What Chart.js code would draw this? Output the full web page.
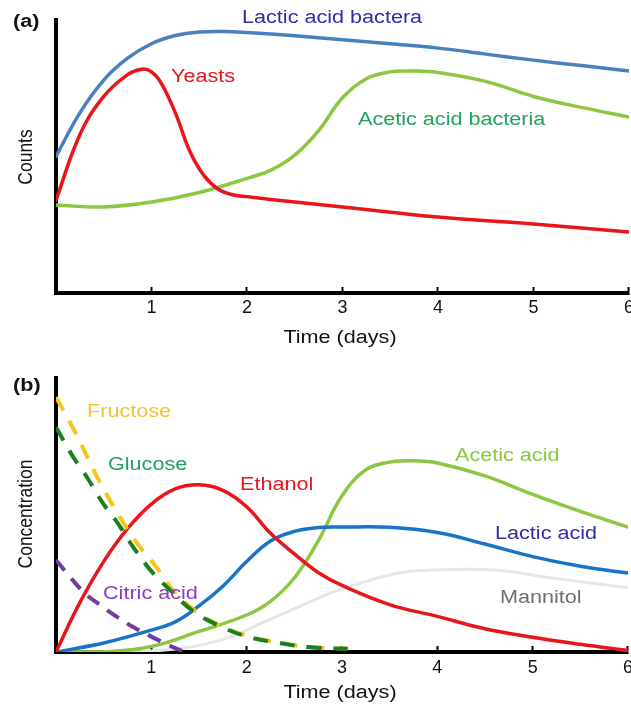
<!DOCTYPE html>
<html>
<head>
<meta charset="utf-8">
<script src="https://cdn.jsdelivr.net/npm/chart.js@4.4.0/dist/chart.umd.min.js"></script>
<style>
  body { margin:0; width:631px; height:708px; position:relative; overflow:hidden; background:#fff; font-family:'Liberation Sans', Arial, sans-serif; }
  .box { position:absolute; left:0; width:646px; }
  .lab { position:absolute; font-size:18px; line-height:1; white-space:nowrap; transform-origin:0 50%; transform:translateY(-50%) scaleX(1.2); }
  .vlab { position:absolute; font-size:17.5px; line-height:1; white-space:nowrap; transform:translate(-50%,-50%) rotate(-90deg) scaleY(1.2); color:#111; }
  .ttl { position:absolute; font-size:18px; line-height:1; white-space:nowrap; transform:translate(-50%,-50%) scaleX(1.2); color:#111; }
</style>
</head>
<body>
<div class="box" style="top:0;height:329px"><canvas id="chartA"></canvas></div>
<div class="box" style="top:355px;height:335px"><canvas id="chartB"></canvas></div>

<div class="lab" style="left:13px;top:21px;font-weight:bold;color:#111">(a)</div>
<div class="lab" style="left:242px;top:17px;color:#2c2eaa">Lactic acid bactera</div>
<div class="lab" style="left:171px;top:76px;color:#e3161e">Yeasts</div>
<div class="lab" style="left:358px;top:119px;color:#22a35a">Acetic acid bacteria</div>
<div class="vlab" style="left:26px;top:157px">Counts</div>
<div class="ttl" style="left:340px;top:337px">Time (days)</div>

<div class="lab" style="left:13px;top:385px;font-weight:bold;color:#111">(b)</div>
<div class="lab" style="left:87px;top:411px;color:#f0c431">Fructose</div>
<div class="lab" style="left:108px;top:464px;color:#22a060">Glucose</div>
<div class="lab" style="left:240px;top:484px;color:#e3161e">Ethanol</div>
<div class="lab" style="left:103px;top:593px;color:#8a3cc0">Citric acid</div>
<div class="lab" style="left:455px;top:455px;color:#8dc641">Acetic acid</div>
<div class="lab" style="left:495px;top:533px;color:#2c2eaa">Lactic acid</div>
<div class="lab" style="left:500px;top:597px;color:#707070">Mannitol</div>
<div class="vlab" style="left:26px;top:514px">Concentration</div>
<div class="ttl" style="left:340px;top:692px">Time (days)</div>

<script>
// x tick labels (days)
const dayTicks = [1, 2, 3, 4, 5, 6];

// (a) counts
const labT = [0, 0.25, 0.5, 0.75, 1, 1.25, 1.5, 1.75, 2, 2.5, 3, 3.5, 4, 4.5, 5, 5.5, 6];
const labV = [50, 66, 78, 86, 91.3, 94.3, 95.6, 95.8, 95.4, 94.2, 92.8, 91.3, 89.7, 87.5, 85.3, 83.3, 81.3];

const yeastT = [0, 0.25, 0.5, 0.75, 0.9, 1.0, 1.1, 1.25, 1.4, 1.55, 1.7, 1.85, 2, 2.5, 3, 4, 5, 6];
const yeastV = [34, 58, 72, 80, 82, 81, 77, 66, 52, 43, 38, 36, 35.3, 33.3, 31.5, 27.8, 25.3, 22.3];

const aabT = [0, 0.5, 1, 1.5, 2, 2.25, 2.5, 2.75, 3, 3.25, 3.5, 3.75, 4, 4.5, 5, 5.5, 6];
const aabV = [32.2, 31.5, 33.3, 36.8, 42, 45, 50.5, 59.5, 71.5, 78.5, 81, 81.3, 80.8, 77.5, 72, 68, 64.5];

// (b) concentration
const fructoseT = [0, 0.2, 0.46, 0.71, 0.88, 1.06, 1.2, 1.45, 1.76, 2.04, 2.33, 2.67, 3.06];
const fructoseV = [93, 80.3, 62, 47, 38.3, 30.7, 23.7, 15.3, 9.1, 5.5, 3.5, 1.8, 1.3];

const glucoseT = [0, 0.18, 0.33, 0.49, 0.64, 0.81, 0.99, 1.2, 1.45, 1.76, 2.04, 2.33, 2.67, 3.06];
const glucoseV = [82, 71.2, 63.5, 54.4, 47.4, 38.3, 29.9, 22.5, 14.6, 8.8, 5.3, 3.4, 1.7, 1.2];

const citricT = [0, 0.12, 0.3, 0.45, 0.64, 0.81, 0.99, 1.2, 1.35];
const citricV = [33.6, 28.5, 21.5, 17.5, 12.8, 9.1, 5.8, 2.2, 0];

const ethanolT = [0, 0.25, 0.5, 0.75, 1, 1.25, 1.5, 1.75, 2, 2.25, 2.5, 2.75, 3, 3.5, 4, 4.5, 5, 5.5, 6];
const ethanolV = [0, 18, 33, 45, 54, 59.5, 61, 59, 53, 43.3, 35.8, 29, 24.3, 17.3, 13, 8.5, 5.4, 2.8, 0.5];

const lacticT = [0, 0.5, 1, 1.25, 1.5, 1.75, 2, 2.25, 2.5, 2.75, 3, 3.5, 4, 4.5, 5, 5.5, 6];
const lacticV = [0, 3.3, 8, 11, 16.8, 24, 33, 40.5, 44, 45.4, 45.6, 45.5, 43.6, 39.4, 34.8, 31.3, 28.8];

const aceticT = [0, 0.5, 1, 1.5, 2, 2.25, 2.5, 2.75, 3, 3.25, 3.5, 3.75, 4, 4.5, 5, 5.5, 6];
const aceticV = [0, 0, 2, 7.5, 13.5, 18.5, 27, 40.5, 57, 66.5, 69.3, 69.8, 69, 64.3, 57.5, 51.3, 45.6];

const mannitolT = [0, 0.8, 1.41, 1.83, 2.18, 2.54, 2.88, 3.23, 3.59, 3.94, 4.6, 5.13, 6];
const mannitolV = [0, 0, 1.8, 5.5, 10.9, 16.4, 21.5, 25.5, 28.8, 29.9, 29.9, 27.4, 23.4];

Chart.defaults.font.family = "'Liberation Sans', Arial, sans-serif";

function pts(t, v) {
  return t.map((x, i) => ({x: x, y: v[i]}));
}

function series(t, v, color, width, dash) {
  return {
    data: pts(t, v),
    borderColor: color,
    borderWidth: width,
    borderDash: dash || [],
    borderCapStyle: dash ? 'butt' : 'round',
    pointRadius: 0,
    tension: 0.4,
    fill: false
  };
}

function makeChart(id, datasets, padTop, tickPad) {
  return new Chart(document.getElementById(id), {
    type: 'line',
    data: { datasets: datasets },
    options: {
      responsive: true,
      maintainAspectRatio: false,
      animation: false,
      layout: { padding: { top: padTop, left: 56, right: 0, bottom: 0 } },
      plugins: { legend: { display: false }, tooltip: { enabled: false } },
      scales: {
        x: {
          type: 'linear',
          min: 0,
          max: 6,
          afterBuildTicks: axis => { axis.ticks = dayTicks.map(d => ({ value: d })); },
          ticks: {
            color: '#111',
            padding: tickPad,
            maxRotation: 0,
            font: { size: 18, lineHeight: 1 }
          },
          grid: {
            drawOnChartArea: false,
            drawTicks: true,
            tickLength: -6,
            tickWidth: 2,
            color: '#000',
            tickColor: '#000'
          },
          border: { display: true, color: '#000', width: 4 }
        },
        y: {
          min: 0,
          max: 100,
          ticks: { display: false },
          grid: { display: false, drawTicks: false },
          border: { display: true, color: '#000', width: 4 }
        }
      }
    }
  });
}

makeChart('chartA', [
  series(yeastT, yeastV, '#e8151b', 3.5),
  series(labT, labV, '#4a80c0', 3.5),
  series(aabT, aabV, '#8dc641', 3.5)
], 20, 12);

makeChart('chartB', [
  series(citricT, citricV, '#6f3fa0', 4, [14, 10]),
  series(glucoseT, glucoseV, '#1a7f1e', 4, [15, 12]),
  series(fructoseT, fructoseV, '#f5c518', 4, [15, 12]),
  series(ethanolT, ethanolV, '#e8151b', 3.5),
  series(lacticT, lacticV, '#1874c8', 3.5),
  series(aceticT, aceticV, '#8dc641', 3.5),
  series(mannitolT, mannitolV, '#e6e6e6', 3)
], 23, 13);
</script>
</body>
</html>
